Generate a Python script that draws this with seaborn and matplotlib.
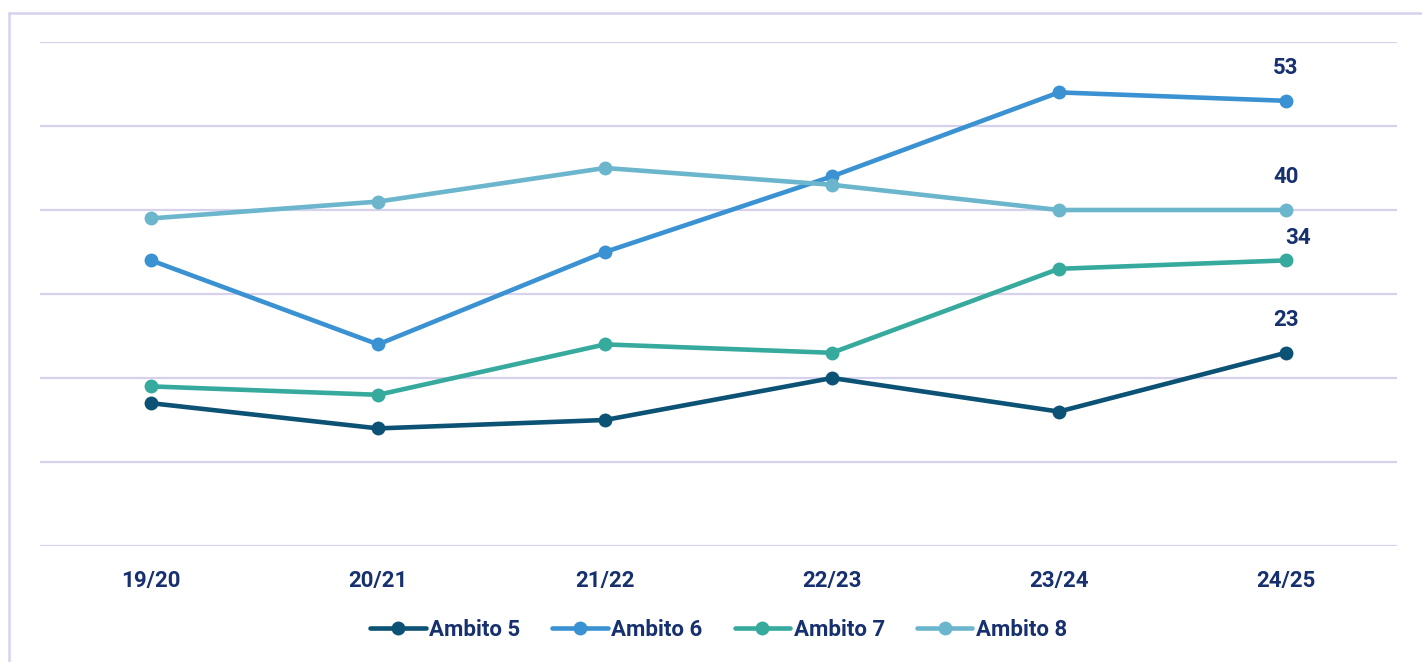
import matplotlib
matplotlib.use("Agg")
import matplotlib.pyplot as plt
from matplotlib.lines import Line2D
import pandas as pd
import seaborn as sns

# School years on the x axis
years = ["19/20", "20/21", "21/22", "22/23", "23/24", "24/25"]

# Values per district
ambito_5 = [17, 14, 15, 20, 16, 23]
ambito_6 = [34, 24, 35, 44, 54, 53]
ambito_7 = [19, 18, 24, 23, 33, 34]
ambito_8 = [39, 41, 45, 43, 40, 40]

series_names = ["Ambito 5", "Ambito 6", "Ambito 7", "Ambito 8"]
series_values = [ambito_5, ambito_6, ambito_7, ambito_8]
colors = ["#0B5275", "#3A92D2", "#35AA9D", "#6BB5CD"]

text_color = "#17306F"
grid_color = "#D6D2EE"

sns.set_theme(style="white")
plt.rcParams["font.family"] = ["Roboto", "DejaVu Sans"]

fig = plt.figure(figsize=(14.22, 6.62), dpi=100)
ax = fig.add_axes([40 / 1422, 1 - 546 / 662, (1397 - 40) / 1422, (546 - 42) / 662])

for name, vals, col in zip(series_names, series_values, colors):
    df = pd.DataFrame({"anno": years, "valore": vals})
    sns.lineplot(data=df, x="anno", y="valore", ax=ax, color=col, linewidth=3.3,
                 marker="o", markersize=10, markeredgewidth=0, label=name,
                 legend=False, sort=False)

ax.set_ylim(0, 60)
ax.set_xlim(-0.49, len(years) - 0.51)
ax.set_yticks(range(0, 61, 10))
ax.yaxis.grid(True, color=grid_color, linewidth=1.6)
ax.set_axisbelow(True)
ax.tick_params(axis="y", left=False, labelleft=False)
ax.tick_params(axis="x", bottom=False, pad=11)
ax.set_xticks(range(len(years)))
ax.set_xticklabels(years, fontsize=16, fontweight="bold", color=text_color)
ax.set_xlabel("")
ax.set_ylabel("")
for s in ax.spines.values():
    s.set_visible(False)

# Final value labels
offsets = {"Ambito 5": (0, 16), "Ambito 6": (0, 16), "Ambito 7": (9, 8), "Ambito 8": (0, 16)}
for name, vals in zip(series_names, series_values):
    ax.annotate(f"{vals[-1]}", xy=(len(years) - 1, vals[-1]), xytext=offsets[name],
                textcoords="offset points", ha="center", va="bottom",
                fontsize=16, fontweight="bold", color=text_color)

leg = ax.legend(loc="center", bbox_to_anchor=(0.5, 1 - (630 - 42) / 504), ncol=4,
                frameon=False, handlelength=2.5, handletextpad=0.15, columnspacing=1.45,
                prop={"size": 16, "weight": "bold"})
for t in leg.get_texts():
    t.set_color(text_color)

# Frame lines along the top and left edges of the figure
fig.add_artist(Line2D([9 / 1422, 1], [1 - 13 / 662, 1 - 13 / 662], color=grid_color, linewidth=1.8))
fig.add_artist(Line2D([9 / 1422, 9 / 1422], [0, 1 - 13 / 662], color=grid_color, linewidth=1.8))

fig.savefig("out.png", dpi=100)
